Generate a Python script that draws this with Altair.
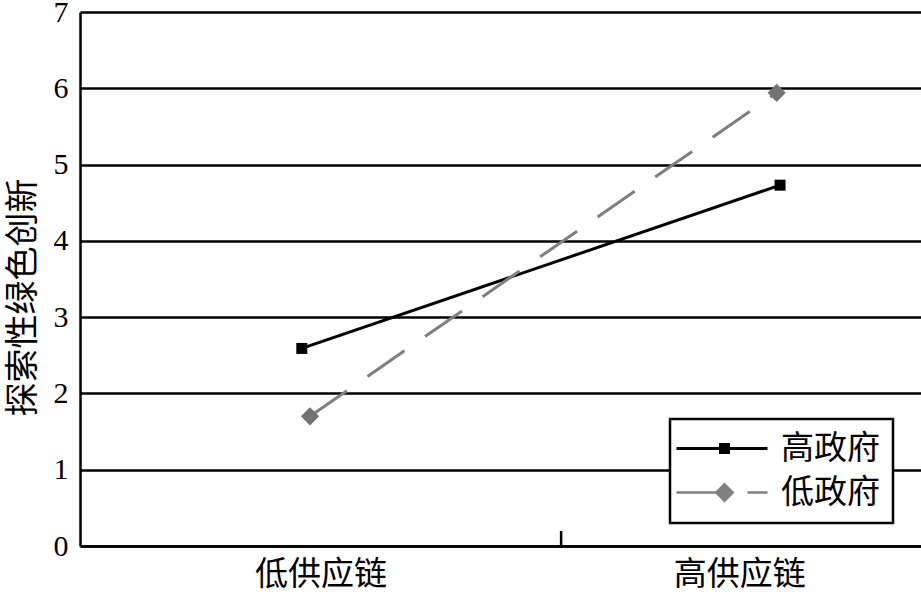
import altair as alt
import pandas as pd

# Categories on the x axis (each category occupies one unit band)
categories = ["低供应链", "高供应链"]
category_label_pos = [0.50, 1.37]
band_edges = [1.0]
x_domain = [0.0, 1.748]

# Series: government level
series_names = ["高政府", "低政府"]
high_gov_x = [0.461, 1.455]
high_gov_y = [2.59, 4.73]
low_gov_x = [0.478, 1.448]
low_gov_y = [1.70, 5.94]

y_ticks = [0, 1, 2, 3, 4, 5, 6, 7]

series_colors = ["#000000", "#7f7f7f"]

CJK = "Noto Sans CJK SC"
SERIF = "Liberation Serif"

df = pd.DataFrame({
    "series": [series_names[0]] * 2 + [series_names[1]] * 2,
    "x": high_gov_x + low_gov_x,
    "y": high_gov_y + low_gov_y,
})
edges = pd.DataFrame({"x": band_edges})

label_expr = f"datum.value < 1 ? '{categories[0]}' : '{categories[1]}'"

x_enc = alt.X(
    "x:Q",
    scale=alt.Scale(domain=x_domain, nice=False, zero=False),
    axis=alt.Axis(
        values=category_label_pos, labelExpr=label_expr, title=None,
        grid=False, ticks=False, tickSize=0, domain=True,
        domainColor="black", domainWidth=2.5,
        labelFont=CJK, labelFontSize=33, labelColor="black",
        labelPadding=12, labelBaseline="top",
        labelFlush=False, labelOverlap=False,
    ),
)
y_enc = alt.Y(
    "y:Q",
    scale=alt.Scale(domain=[0, 7], nice=False, zero=True),
    axis=alt.Axis(
        values=y_ticks, format="d",
        title="探索性绿色创新", titleFont=CJK, titleFontSize=34,
        titleFontWeight="normal", titleColor="black",
        titleAngle=270, titleAlign="center", titleBaseline="middle",
        titleX=-57, titleY=285,
        grid=True, gridColor="black", gridWidth=2.5, gridOpacity=1,
        ticks=False, tickSize=0, domain=True,
        domainColor="black", domainWidth=2.5,
        labelFont=SERIF, labelFontSize=30, labelColor="black",
        labelPadding=12,
    ),
)

# Lines: solid black for 高政府, long-dash grey for 低政府
line_hi = alt.Chart(df).transform_filter(
    alt.datum.series == series_names[0]
).mark_line(color=series_colors[0], strokeWidth=3).encode(
    x=x_enc, y=y_enc, order="x:Q"
)
line_lo = alt.Chart(df).transform_filter(
    alt.datum.series == series_names[1]
).mark_line(color=series_colors[1], strokeWidth=3, strokeDash=[45, 25]).encode(
    x=x_enc, y=y_enc, order="x:Q"
)

pts_hi = alt.Chart(df).transform_filter(
    alt.datum.series == series_names[0]
).mark_point(filled=True, shape="square", size=121, color=series_colors[0],
             opacity=1).encode(x=x_enc, y=y_enc)
pts_lo = alt.Chart(df).transform_filter(
    alt.datum.series == series_names[1]
).mark_point(filled=True, shape="diamond", size=330, color="#737373",
             opacity=1).encode(x=x_enc, y=y_enc)

# Small upward tick at the boundary between the two categories
edge_tick = alt.Chart(edges).mark_rule(color="black", strokeWidth=2.5).encode(
    x=x_enc,
    y=alt.value(519), y2=alt.value(534),
)

# Legend symbols: line sample with the series marker (filled shapes only)
sym_hi = ("M-4.55,-0.14H4.55V0.14H-4.55Z"
          "M-0.3,-0.55H0.8V0.55H-0.3Z")
sym_lo = ("M-4.55,-0.13H-0.5V0.13H-4.55Z"
          "M0.25,-1L1.25,0L0.25,1L-0.75,0Z"
          "M2.55,-0.13H4.55V0.13H2.55Z")

legend_cfg = dict(
    title=None, orient="none", legendX=590, legendY=407,
    fillColor="white", strokeColor="black", padding=13,
    symbolSize=400, symbolStrokeWidth=0, symbolOpacity=1,
    symbolOffset=22.5, labelOffset=42.5, rowPadding=10,
    labelFont=CJK, labelFontSize=33, labelColor="black", labelLimit=0,
)
legend_layer = alt.Chart(df).transform_filter("false").mark_point(
    filled=True, size=400, opacity=1, strokeWidth=0
).encode(
    x=x_enc, y=y_enc,
    color=alt.Color("series:N",
                    scale=alt.Scale(domain=series_names, range=["#000000", "#808080"]),
                    legend=alt.Legend(**legend_cfg)),
    shape=alt.Shape("series:N",
                    scale=alt.Scale(domain=series_names, range=[sym_hi, sym_lo]),
                    legend=alt.Legend(**legend_cfg)),
)

chart = alt.layer(
    line_hi, line_lo, pts_hi, pts_lo, edge_tick, legend_layer
).properties(
    width=841, height=534,
    autosize=alt.AutoSizeParams(type="none"),
    padding={"left": 80, "top": 12, "right": 0, "bottom": 48},
    background="white",
).configure_view(stroke=None).configure_legend(strokeWidth=2.5)

chart.save("out.html", embed_options={"renderer": "svg", "actions": False})
